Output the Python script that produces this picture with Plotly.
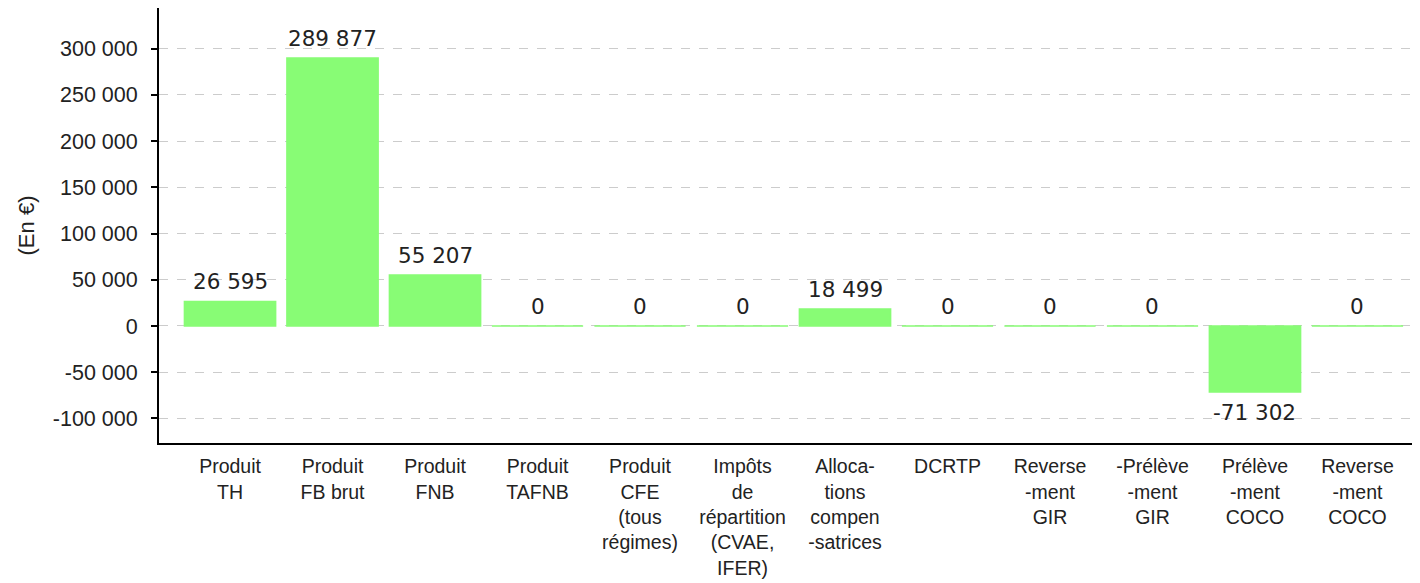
import plotly.graph_objects as go

categories = [
    "Produit<br>TH", "Produit<br>FB brut", "Produit<br>FNB", "Produit<br>TAFNB",
    "Produit<br>CFE<br>(tous<br>régimes)", "Impôts<br>de<br>répartition<br>(CVAE,<br>IFER)",
    "Alloca-<br>tions<br>compen<br>-satrices", "DCRTP", "Reverse<br>-ment<br>GIR",
    "-Prélève<br>-ment<br>GIR", "Prélève<br>-ment<br>COCO", "Reverse<br>-ment<br>COCO",
]
values = [26595, 289877, 55207, 0, 0, 0, 18499, 0, 0, 0, -71302, 0]
tick_vals = [-100000, -50000, 0, 50000, 100000, 150000, 200000, 250000, 300000]
tick_text = [f"{v:,}".replace(",", " ") for v in tick_vals]
labels = [f"{v:,}".replace(",", " ") for v in values]

xs = list(range(len(categories)))
fig = go.Figure(go.Bar(
    x=xs, y=values,
    marker=dict(color="#88fc75", line=dict(color="#88fc75", width=1.5)),
    width=0.89,
))

for x, v, t in zip(xs, values, labels):
    fig.add_annotation(
        x=x, y=v, text=t, showarrow=False,
        yanchor="top" if v < 0 else "bottom",
        yshift=-6 if v < 0 else 5,
        font=dict(family="DejaVu Sans", size=21.5, color="#222222"),
    )

fig.update_layout(
    width=1412, height=575,
    margin=dict(l=151, r=0, t=0, b=140),
    plot_bgcolor="white", paper_bgcolor="white",
    showlegend=False,
    font=dict(family="Liberation Sans, Arial", size=18, color="#222222"),
)
fig.update_xaxes(
    tickvals=xs, ticktext=categories,
    range=[-0.693, 11.61],
    showline=True, linecolor="black", linewidth=2,
    showgrid=False, ticks="", tickfont=dict(size=19.5),
    ticklabelstandoff=5,
)
fig.update_yaxes(
    range=[-126500, 343800], tickvals=tick_vals, ticktext=tick_text,
    showline=True, linecolor="black", linewidth=2,
    ticks="outside", ticklen=6, tickcolor="black", tickwidth=2,
    showgrid=True, gridcolor="#cccccc", griddash="dash", gridwidth=1,
    zeroline=False,
    title=dict(text="(En €)", font=dict(size=22), standoff=12),
    tickfont=dict(size=21.5),
    ticklabelstandoff=9,
)
fig.write_html("out.html")
